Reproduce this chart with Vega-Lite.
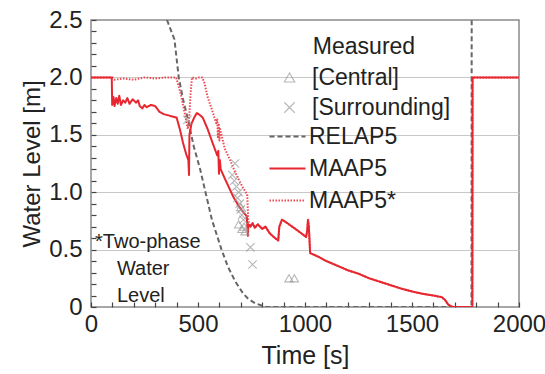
{
  "$schema": "https://vega.github.io/schema/vega-lite/v6.json",
  "width": 428,
  "height": 287,
  "autosize": {"type": "none"},
  "padding": {"left": 91, "top": 20, "right": 26, "bottom": 67},
  "background": "white",
  "config": {
    "font": "Liberation Sans",
    "view": {"stroke": "#8a8a8a", "strokeWidth": 1.5},
    "axis": {
      "labelFont": "Liberation Sans",
      "titleFont": "Liberation Sans",
      "labelColor": "#222",
      "titleColor": "#222",
      "titleFontWeight": "normal",
      "domain": false,
      "tickColor": "#444",
      "tickWidth": 1.2,
      "zindex": 1
    },
    "legend": {
      "labelFont": "Liberation Sans",
      "titleFont": "Liberation Sans",
      "labelColor": "#222",
      "titleColor": "#222",
      "titleFontWeight": "normal",
      "padding": 0
    }
  },
  "datasets": {
    "lines": [
      {"t": 355, "h": 2.5, "model": "RELAP5"},
      {"t": 390, "h": 2.33, "model": "RELAP5"},
      {"t": 410, "h": 2.0, "model": "RELAP5"},
      {"t": 430, "h": 1.81, "model": "RELAP5"},
      {"t": 455, "h": 1.62, "model": "RELAP5"},
      {"t": 480, "h": 1.4, "model": "RELAP5"},
      {"t": 510, "h": 1.2, "model": "RELAP5"},
      {"t": 535, "h": 1.0, "model": "RELAP5"},
      {"t": 565, "h": 0.76, "model": "RELAP5"},
      {"t": 610, "h": 0.5, "model": "RELAP5"},
      {"t": 640, "h": 0.35, "model": "RELAP5"},
      {"t": 675, "h": 0.22, "model": "RELAP5"},
      {"t": 710, "h": 0.12, "model": "RELAP5"},
      {"t": 735, "h": 0.07, "model": "RELAP5"},
      {"t": 770, "h": 0.03, "model": "RELAP5"},
      {"t": 820, "h": 0.0, "model": "RELAP5"},
      {"t": 1778, "h": 0.0, "model": "RELAP5"},
      {"t": 1779, "h": 2.6, "model": "RELAP5"},

      {"t": 0, "h": 2.0, "model": "MAAP5*"},
      {"t": 100, "h": 2.0, "model": "MAAP5*"},
      {"t": 110, "h": 1.98, "model": "MAAP5*"},
      {"t": 150, "h": 1.99, "model": "MAAP5*"},
      {"t": 200, "h": 1.98, "model": "MAAP5*"},
      {"t": 250, "h": 2.0, "model": "MAAP5*"},
      {"t": 300, "h": 1.99, "model": "MAAP5*"},
      {"t": 350, "h": 2.0, "model": "MAAP5*"},
      {"t": 398, "h": 2.0, "model": "MAAP5*"},
      {"t": 420, "h": 1.85, "model": "MAAP5*"},
      {"t": 440, "h": 1.67, "model": "MAAP5*"},
      {"t": 452, "h": 1.55, "model": "MAAP5*"},
      {"t": 458, "h": 1.62, "model": "MAAP5*"},
      {"t": 465, "h": 1.85, "model": "MAAP5*"},
      {"t": 472, "h": 2.0, "model": "MAAP5*"},
      {"t": 490, "h": 1.99, "model": "MAAP5*"},
      {"t": 505, "h": 2.0, "model": "MAAP5*"},
      {"t": 520, "h": 2.0, "model": "MAAP5*"},
      {"t": 530, "h": 1.95, "model": "MAAP5*"},
      {"t": 545, "h": 1.83, "model": "MAAP5*"},
      {"t": 565, "h": 1.72, "model": "MAAP5*"},
      {"t": 585, "h": 1.6, "model": "MAAP5*"},
      {"t": 590, "h": 1.64, "model": "MAAP5*"},
      {"t": 593, "h": 1.48, "model": "MAAP5*"},
      {"t": 597, "h": 1.6, "model": "MAAP5*"},
      {"t": 600, "h": 1.45, "model": "MAAP5*"},
      {"t": 603, "h": 1.55, "model": "MAAP5*"},
      {"t": 625, "h": 1.38, "model": "MAAP5*"},
      {"t": 650, "h": 1.28, "model": "MAAP5*"},
      {"t": 670, "h": 1.19, "model": "MAAP5*"},
      {"t": 690, "h": 1.11, "model": "MAAP5*"},
      {"t": 710, "h": 1.04, "model": "MAAP5*"},
      {"t": 730, "h": 0.98, "model": "MAAP5*"},
      {"t": 735, "h": 0.75, "model": "MAAP5*"},
      {"t": 745, "h": 0.7, "model": "MAAP5*"},
      {"t": 755, "h": 0.73, "model": "MAAP5*"},
      {"t": 765, "h": 0.69, "model": "MAAP5*"},
      {"t": 780, "h": 0.72, "model": "MAAP5*"},
      {"t": 790, "h": 0.7, "model": "MAAP5*"},
      {"t": 800, "h": 0.68, "model": "MAAP5*"},
      {"t": 815, "h": 0.7, "model": "MAAP5*"},
      {"t": 836, "h": 0.64, "model": "MAAP5*"},
      {"t": 860, "h": 0.6, "model": "MAAP5*"},
      {"t": 875, "h": 0.58, "model": "MAAP5*"},
      {"t": 880, "h": 0.7, "model": "MAAP5*"},
      {"t": 892, "h": 0.76, "model": "MAAP5*"},
      {"t": 910, "h": 0.74, "model": "MAAP5*"},
      {"t": 940, "h": 0.7, "model": "MAAP5*"},
      {"t": 970, "h": 0.66, "model": "MAAP5*"},
      {"t": 1005, "h": 0.61, "model": "MAAP5*"},
      {"t": 1010, "h": 0.66, "model": "MAAP5*"},
      {"t": 1014, "h": 0.76, "model": "MAAP5*"},
      {"t": 1018, "h": 0.7, "model": "MAAP5*"},
      {"t": 1024, "h": 0.47, "model": "MAAP5*"},
      {"t": 1060, "h": 0.44, "model": "MAAP5*"},
      {"t": 1100, "h": 0.4, "model": "MAAP5*"},
      {"t": 1163, "h": 0.35, "model": "MAAP5*"},
      {"t": 1200, "h": 0.32, "model": "MAAP5*"},
      {"t": 1250, "h": 0.29, "model": "MAAP5*"},
      {"t": 1300, "h": 0.25, "model": "MAAP5*"},
      {"t": 1350, "h": 0.22, "model": "MAAP5*"},
      {"t": 1400, "h": 0.19, "model": "MAAP5*"},
      {"t": 1450, "h": 0.16, "model": "MAAP5*"},
      {"t": 1500, "h": 0.135, "model": "MAAP5*"},
      {"t": 1550, "h": 0.115, "model": "MAAP5*"},
      {"t": 1600, "h": 0.1, "model": "MAAP5*"},
      {"t": 1640, "h": 0.085, "model": "MAAP5*"},
      {"t": 1655, "h": 0.06, "model": "MAAP5*"},
      {"t": 1670, "h": 0.02, "model": "MAAP5*"},
      {"t": 1690, "h": 0.0, "model": "MAAP5*"},
      {"t": 1782, "h": 0.0, "model": "MAAP5*"},
      {"t": 1783, "h": 2.0, "model": "MAAP5*"},
      {"t": 2000, "h": 2.0, "model": "MAAP5*"},

      {"t": 0, "h": 2.0, "model": "MAAP5"},
      {"t": 97, "h": 2.0, "model": "MAAP5"},
      {"t": 99, "h": 1.76, "model": "MAAP5"},
      {"t": 105, "h": 1.83, "model": "MAAP5"},
      {"t": 110, "h": 1.75, "model": "MAAP5"},
      {"t": 118, "h": 1.82, "model": "MAAP5"},
      {"t": 125, "h": 1.77, "model": "MAAP5"},
      {"t": 132, "h": 1.84, "model": "MAAP5"},
      {"t": 140, "h": 1.76, "model": "MAAP5"},
      {"t": 150, "h": 1.8, "model": "MAAP5"},
      {"t": 160, "h": 1.78, "model": "MAAP5"},
      {"t": 170, "h": 1.82, "model": "MAAP5"},
      {"t": 180, "h": 1.77, "model": "MAAP5"},
      {"t": 195, "h": 1.81, "model": "MAAP5"},
      {"t": 210, "h": 1.78, "model": "MAAP5"},
      {"t": 220, "h": 1.8, "model": "MAAP5"},
      {"t": 228, "h": 1.75, "model": "MAAP5"},
      {"t": 240, "h": 1.73, "model": "MAAP5"},
      {"t": 250, "h": 1.76, "model": "MAAP5"},
      {"t": 260, "h": 1.74, "model": "MAAP5"},
      {"t": 280, "h": 1.76, "model": "MAAP5"},
      {"t": 300, "h": 1.75, "model": "MAAP5"},
      {"t": 320, "h": 1.7, "model": "MAAP5"},
      {"t": 340, "h": 1.68, "model": "MAAP5"},
      {"t": 360, "h": 1.67, "model": "MAAP5"},
      {"t": 380, "h": 1.66, "model": "MAAP5"},
      {"t": 400, "h": 1.65, "model": "MAAP5"},
      {"t": 415, "h": 1.55, "model": "MAAP5"},
      {"t": 430, "h": 1.43, "model": "MAAP5"},
      {"t": 445, "h": 1.33, "model": "MAAP5"},
      {"t": 455, "h": 1.28, "model": "MAAP5"},
      {"t": 458, "h": 1.15, "model": "MAAP5"},
      {"t": 460, "h": 1.5, "model": "MAAP5"},
      {"t": 470, "h": 1.6, "model": "MAAP5"},
      {"t": 485, "h": 1.66, "model": "MAAP5"},
      {"t": 495, "h": 1.69, "model": "MAAP5"},
      {"t": 510, "h": 1.67, "model": "MAAP5"},
      {"t": 522, "h": 1.65, "model": "MAAP5"},
      {"t": 545, "h": 1.55, "model": "MAAP5"},
      {"t": 570, "h": 1.42, "model": "MAAP5"},
      {"t": 590, "h": 1.32, "model": "MAAP5"},
      {"t": 595, "h": 1.36, "model": "MAAP5"},
      {"t": 598, "h": 1.16, "model": "MAAP5"},
      {"t": 602, "h": 1.28, "model": "MAAP5"},
      {"t": 606, "h": 1.2, "model": "MAAP5"},
      {"t": 625, "h": 1.12, "model": "MAAP5"},
      {"t": 645, "h": 1.04, "model": "MAAP5"},
      {"t": 665, "h": 0.96, "model": "MAAP5"},
      {"t": 690, "h": 0.88, "model": "MAAP5"},
      {"t": 710, "h": 0.83, "model": "MAAP5"},
      {"t": 728, "h": 0.79, "model": "MAAP5"},
      {"t": 733, "h": 0.62, "model": "MAAP5"},
      {"t": 736, "h": 0.72, "model": "MAAP5"},
      {"t": 745, "h": 0.7, "model": "MAAP5"},
      {"t": 755, "h": 0.73, "model": "MAAP5"},
      {"t": 765, "h": 0.69, "model": "MAAP5"},
      {"t": 780, "h": 0.72, "model": "MAAP5"},
      {"t": 790, "h": 0.7, "model": "MAAP5"},
      {"t": 800, "h": 0.68, "model": "MAAP5"},
      {"t": 815, "h": 0.7, "model": "MAAP5"},
      {"t": 836, "h": 0.64, "model": "MAAP5"},
      {"t": 860, "h": 0.6, "model": "MAAP5"},
      {"t": 875, "h": 0.58, "model": "MAAP5"},
      {"t": 880, "h": 0.7, "model": "MAAP5"},
      {"t": 892, "h": 0.76, "model": "MAAP5"},
      {"t": 910, "h": 0.74, "model": "MAAP5"},
      {"t": 940, "h": 0.7, "model": "MAAP5"},
      {"t": 970, "h": 0.66, "model": "MAAP5"},
      {"t": 1005, "h": 0.61, "model": "MAAP5"},
      {"t": 1010, "h": 0.66, "model": "MAAP5"},
      {"t": 1014, "h": 0.76, "model": "MAAP5"},
      {"t": 1018, "h": 0.7, "model": "MAAP5"},
      {"t": 1024, "h": 0.47, "model": "MAAP5"},
      {"t": 1060, "h": 0.44, "model": "MAAP5"},
      {"t": 1100, "h": 0.4, "model": "MAAP5"},
      {"t": 1163, "h": 0.35, "model": "MAAP5"},
      {"t": 1200, "h": 0.32, "model": "MAAP5"},
      {"t": 1250, "h": 0.29, "model": "MAAP5"},
      {"t": 1300, "h": 0.25, "model": "MAAP5"},
      {"t": 1350, "h": 0.22, "model": "MAAP5"},
      {"t": 1400, "h": 0.19, "model": "MAAP5"},
      {"t": 1450, "h": 0.16, "model": "MAAP5"},
      {"t": 1500, "h": 0.135, "model": "MAAP5"},
      {"t": 1550, "h": 0.115, "model": "MAAP5"},
      {"t": 1600, "h": 0.1, "model": "MAAP5"},
      {"t": 1640, "h": 0.085, "model": "MAAP5"},
      {"t": 1655, "h": 0.06, "model": "MAAP5"},
      {"t": 1670, "h": 0.02, "model": "MAAP5"},
      {"t": 1690, "h": 0.0, "model": "MAAP5"},
      {"t": 1782, "h": 0.0, "model": "MAAP5"},
      {"t": 1783, "h": 2.0, "model": "MAAP5"},
      {"t": 2000, "h": 2.0, "model": "MAAP5"}
    ],
    "measured": [
      {"t": 450, "h": 1.63, "series": "[Surrounding]"},
      {"t": 673, "h": 1.25, "series": "[Surrounding]"},
      {"t": 660, "h": 1.15, "series": "[Surrounding]"},
      {"t": 670, "h": 1.1, "series": "[Surrounding]"},
      {"t": 680, "h": 1.05, "series": "[Surrounding]"},
      {"t": 690, "h": 1.0, "series": "[Surrounding]"},
      {"t": 685, "h": 0.95, "series": "[Surrounding]"},
      {"t": 695, "h": 0.9, "series": "[Surrounding]"},
      {"t": 700, "h": 0.85, "series": "[Surrounding]"},
      {"t": 705, "h": 0.8, "series": "[Surrounding]"},
      {"t": 712, "h": 0.76, "series": "[Surrounding]"},
      {"t": 745, "h": 0.52, "series": "[Surrounding]"},
      {"t": 755, "h": 0.37, "series": "[Surrounding]"},
      {"t": 690, "h": 0.72, "series": "[Central]"},
      {"t": 705, "h": 0.68, "series": "[Central]"},
      {"t": 715, "h": 0.7, "series": "[Central]"},
      {"t": 720, "h": 0.66, "series": "[Central]"},
      {"t": 700, "h": 0.87, "series": "[Central]"},
      {"t": 925, "h": 0.25, "series": "[Central]"},
      {"t": 950, "h": 0.25, "series": "[Central]"}
    ]
  },
  "layer": [
    {
      "encoding": {
        "x": {
          "field": "t", "type": "quantitative",
          "scale": {"domain": [0, 2000], "nice": false, "zero": false},
          "axis": {
            "title": "Time [s]",
            "titleFontSize": 25,
            "titlePadding": 7,
            "labelFontSize": 24,
            "labelPadding": 5,
            "offset": -5,
            "values": [0,100,200,300,400,500,600,700,800,900,1000,1100,1200,1300,1400,1500,1600,1700,1800,1900,2000],
            "format": "d",
            "labelExpr": "datum.value % 500 === 0 ? datum.label : ''",
            "labelFlush": false,
            "labelOverlap": false,
            "tickSize": 5,
            "grid": false
          }
        },
        "y": {
          "field": "h", "type": "quantitative",
          "scale": {"domain": [0, 2.5], "nice": false, "zero": false},
          "axis": {
            "title": "Water Level [m]",
            "titleFontSize": 24,
            "titlePadding": 4,
            "labelFontSize": 24,
            "labelPadding": 9,
            "offset": -5,
            "values": [0,0.1,0.2,0.3,0.4,0.5,0.6,0.7,0.8,0.9,1.0,1.1,1.2,1.3,1.4,1.5,1.6,1.7,1.8,1.9,2.0,2.1,2.2,2.3,2.4,2.5],
            "labelExpr": "abs(datum.value*2 - round(datum.value*2)) < 0.001 ? (datum.value < 0.01 ? '0' : format(datum.value, '.1f')) : ''",
            "labelFlush": false,
            "labelOverlap": false,
            "tickSize": 5,
            "grid": true,
            "gridColor": "#c8c8c8",
            "gridWidth": 1.2,
            "gridOpacity": {"condition": {"test": "abs(datum.value*2 - round(datum.value*2)) < 0.001 && datum.value > 0.01 && datum.value < 2.49", "value": 1}, "value": 0}
          }
        }
      },
      "layer": [
        {
          "data": {"name": "lines"},
          "mark": {"type": "line", "clip": true, "strokeJoin": "round"},
          "encoding": {
            "color": {
              "field": "model", "type": "nominal",
              "scale": {"domain": ["RELAP5", "MAAP5", "MAAP5*"], "range": ["#666666", "#e8262f", "#ee4a52"]},
              "legend": {
                "title": null,
                "orient": "none",
                "legendX": 177,
                "legendY": 97,
                "symbolType": "stroke",
                "symbolSize": 1300,
                "symbolStrokeWidth": 2,
                "labelFontSize": 23,
                "labelOffset": 2,
                "rowPadding": -7
              }
            },
            "strokeDash": {
              "field": "model", "type": "nominal",
              "scale": {"domain": ["RELAP5", "MAAP5", "MAAP5*"], "range": [[5, 3], [1, 0], [1.5, 1.5]]},
              "legend": {
                "title": null,
                "orient": "none",
                "legendX": 177,
                "legendY": 97,
                "symbolType": "stroke",
                "symbolSize": 1300,
                "symbolStrokeWidth": 2,
                "labelFontSize": 23,
                "labelOffset": 2,
                "rowPadding": -7
              }
            },
            "strokeWidth": {
              "field": "model", "type": "nominal",
              "scale": {"domain": ["RELAP5", "MAAP5", "MAAP5*"], "range": [2, 2, 1.6]},
              "legend": null
            }
          }
        },
        {
          "data": {"name": "measured"},
          "mark": {"type": "point", "filled": false, "color": "#9a9a9a", "size": 70, "strokeWidth": 1.1},
          "encoding": {
            "shape": {
              "field": "series", "type": "nominal",
              "scale": {"domain": ["[Central]", "[Surrounding]"], "range": ["triangle-up", "M-1,-1L1,1M-1,1L1,-1"]},
              "legend": {
                "title": "Measured",
                "orient": "none",
                "legendX": 187,
                "legendY": 16,
                "titleFontSize": 23,
                "titleAnchor": "middle",
                "titlePadding": 7,
                "labelFontSize": 23,
                "labelOffset": 11,
                "rowPadding": 6,
                "symbolStrokeColor": "#9a9a9a",
                "symbolSize": 110,
                "symbolStrokeWidth": 1.1
              }
            }
          }
        }
      ]
    },
    {
      "data": {"values": [{"note": "*Two-phase"}]},
      "mark": {"type": "text", "align": "left", "baseline": "top", "fontSize": 20, "fill": "#222", "font": "Liberation Sans"},
      "encoding": {
        "x": {
          "datum": 19, "type": "quantitative",
          "scale": {"domain": [0, 2000], "nice": false, "zero": false},
          "axis": {
            "title": "Time [s]",
            "titleFontSize": 25,
            "titlePadding": 7,
            "labelFontSize": 24,
            "labelPadding": 5,
            "offset": -5,
            "values": [0,100,200,300,400,500,600,700,800,900,1000,1100,1200,1300,1400,1500,1600,1700,1800,1900,2000],
            "format": "d",
            "labelExpr": "datum.value % 500 === 0 ? datum.label : ''",
            "labelFlush": false,
            "labelOverlap": false,
            "tickSize": 5,
            "grid": false
          }
        },
        "y": {
          "datum": 0.65, "type": "quantitative",
          "scale": {"domain": [0, 2.5], "nice": false, "zero": false},
          "axis": {
            "title": "Water Level [m]",
            "titleFontSize": 24,
            "titlePadding": 4,
            "labelFontSize": 24,
            "labelPadding": 9,
            "offset": -5,
            "values": [0,0.1,0.2,0.3,0.4,0.5,0.6,0.7,0.8,0.9,1.0,1.1,1.2,1.3,1.4,1.5,1.6,1.7,1.8,1.9,2.0,2.1,2.2,2.3,2.4,2.5],
            "labelExpr": "abs(datum.value*2 - round(datum.value*2)) < 0.001 ? (datum.value < 0.01 ? '0' : format(datum.value, '.1f')) : ''",
            "labelFlush": false,
            "labelOverlap": false,
            "tickSize": 5,
            "grid": true,
            "gridColor": "#c8c8c8",
            "gridWidth": 1.2,
            "gridOpacity": {"condition": {"test": "abs(datum.value*2 - round(datum.value*2)) < 0.001 && datum.value > 0.01 && datum.value < 2.49", "value": 1}, "value": 0}
          }
        },
        "text": {"field": "note"}
      }
    },
    {
      "data": {"values": [{"note": "Water\nLevel"}]},
      "mark": {"type": "text", "align": "left", "baseline": "top", "fontSize": 20, "lineHeight": 27, "lineBreak": "\n", "fill": "#222", "font": "Liberation Sans"},
      "encoding": {
        "x": {
          "datum": 121, "type": "quantitative",
          "scale": {"domain": [0, 2000], "nice": false, "zero": false},
          "axis": {
            "title": "Time [s]",
            "titleFontSize": 25,
            "titlePadding": 7,
            "labelFontSize": 24,
            "labelPadding": 5,
            "offset": -5,
            "values": [0,100,200,300,400,500,600,700,800,900,1000,1100,1200,1300,1400,1500,1600,1700,1800,1900,2000],
            "format": "d",
            "labelExpr": "datum.value % 500 === 0 ? datum.label : ''",
            "labelFlush": false,
            "labelOverlap": false,
            "tickSize": 5,
            "grid": false
          }
        },
        "y": {
          "datum": 0.415, "type": "quantitative",
          "scale": {"domain": [0, 2.5], "nice": false, "zero": false},
          "axis": {
            "title": "Water Level [m]",
            "titleFontSize": 24,
            "titlePadding": 4,
            "labelFontSize": 24,
            "labelPadding": 9,
            "offset": -5,
            "values": [0,0.1,0.2,0.3,0.4,0.5,0.6,0.7,0.8,0.9,1.0,1.1,1.2,1.3,1.4,1.5,1.6,1.7,1.8,1.9,2.0,2.1,2.2,2.3,2.4,2.5],
            "labelExpr": "abs(datum.value*2 - round(datum.value*2)) < 0.001 ? (datum.value < 0.01 ? '0' : format(datum.value, '.1f')) : ''",
            "labelFlush": false,
            "labelOverlap": false,
            "tickSize": 5,
            "grid": true,
            "gridColor": "#c8c8c8",
            "gridWidth": 1.2,
            "gridOpacity": {"condition": {"test": "abs(datum.value*2 - round(datum.value*2)) < 0.001 && datum.value > 0.01 && datum.value < 2.49", "value": 1}, "value": 0}
          }
        },
        "text": {"field": "note"}
      }
    }
  ]
}
